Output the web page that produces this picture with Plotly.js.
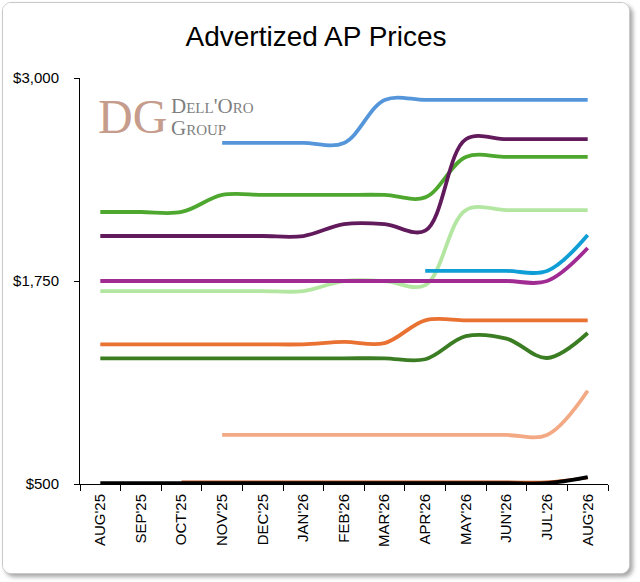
<!DOCTYPE html>
<html>
<head>
<meta charset="utf-8">
<script src="https://cdn.plot.ly/plotly-3.0.1.min.js"></script>
<style>
  body { margin: 0; background: #ffffff; }
  #frame {
    position: absolute; left: 2px; top: 2px;
    width: 626px; height: 570px;
    border: 1px solid #c8c8c8; border-radius: 9px;
    box-shadow: 3px 3px 4px rgba(0, 0, 0, 0.35);
    overflow: hidden; background: #ffffff;
  }
</style>
</head>
<body>
<div id="frame"><div id="plot"></div></div>
<script>
// months on the x axis
const months = ["AUG'25", "SEP'25", "OCT'25", "NOV'25", "DEC'25", "JAN'26", "FEB'26",
  "MAR'26", "APR'26", "MAY'26", "JUN'26", "JUL'26", "AUG'26"];

// price series (null = not yet advertized)
const blueSeries = [null, null, null, 2600, 2600, 2600, 2600, 2865, 2865, 2865, 2865, 2865, 2865];
const purpleSeries = [2027, 2027, 2027, 2027, 2027, 2027, 2100, 2100, 2060, 2623, 2623, 2623, 2623];
const greenSeries = [2175, 2175, 2175, 2280, 2280, 2280, 2280, 2280, 2265, 2514, 2514, 2514, 2514];
const lightGreenSeries = [1688, 1688, 1688, 1688, 1688, 1688, 1750, 1750, 1725, 2187, 2187, 2187, 2187];
const magentaSeries = [1750, 1750, 1750, 1750, 1750, 1750, 1750, 1750, 1750, 1750, 1750, 1750, 1953];
const cyanSeries = [null, null, null, null, null, null, null, null, 1812, 1812, 1812, 1812, 2033];
const orangeSeries = [1360, 1360, 1360, 1360, 1360, 1360, 1375, 1368, 1508, 1508, 1508, 1508, 1508];
const darkGreenSeries = [1274, 1274, 1274, 1274, 1274, 1274, 1274, 1274, 1268, 1410, 1395, 1276, 1430];
const peachSeries = [null, null, null, 802, 802, 802, 802, 802, 802, 802, 802, 802, 1074];
const brownSeries = [null, null, 512, 512, 512, 512, 512, 512, 512, 512, 512, 512, 538];
const blackSeries = [505, 505, 505, 505, 505, 505, 505, 505, 505, 505, 505, 505, 543];

// y axis ticks
const yTickVals = [500, 1750, 3000];
const yTickText = ["$500", "$1,750", "$3,000"];

function line(values, color) {
  return {
    x: months,
    y: values,
    type: "scatter",
    mode: "lines",
    line: { color: color, width: 3.8, shape: "spline", smoothing: 1 },
    showlegend: false,
    hoverinfo: "x+y",
  };
}

const traces = [
  line(blueSeries, "#5596db"),
  line(greenSeries, "#4ea72e"),
  line(purpleSeries, "#611a5b"),
  line(lightGreenSeries, "#b3e6a1"),
  line(magentaSeries, "#a02b93"),
  line(cyanSeries, "#0f9ed5"),
  line(orangeSeries, "#e97132"),
  line(darkGreenSeries, "#3b7d23"),
  line(peachSeries, "#f2a984"),
  line(brownSeries, "#c04f15"),
  line(blackSeries, "#000000"),
];
traces[9].line.width = 3;

const serif = "'Liberation Serif', 'DejaVu Serif', serif";

const layout = {
  width: 626,
  height: 570,
  margin: { l: 77, r: 21, t: 75, b: 89 },
  paper_bgcolor: "#ffffff",
  plot_bgcolor: "#ffffff",
  font: { family: "'Liberation Sans', Arial, sans-serif", color: "#000000", size: 15 },
  title: {
    text: "Advertized AP Prices",
    font: { size: 28, color: "#000000" },
    xref: "container", x: 0.5, xanchor: "center",
    yref: "container", y: 0.942, yanchor: "middle",
  },
  xaxis: {
    type: "category",
    range: [-0.5, 12.5],
    tickangle: -90,
    tickson: "boundaries",
    ticks: "outside",
    ticklen: 6,
    tickcolor: "#000000",
    showline: true,
    linecolor: "#000000",
    linewidth: 1,
    showgrid: false,
    zeroline: false,
    ticklabelstandoff: 3,
    tickfont: { size: 15 },
    fixedrange: true,
  },
  yaxis: {
    range: [500, 3000],
    tickvals: yTickVals,
    ticktext: yTickText,
    ticks: "outside",
    ticklen: 5,
    tickcolor: "#000000",
    showline: true,
    linecolor: "#000000",
    linewidth: 1,
    showgrid: false,
    zeroline: false,
    ticklabelstandoff: 12,
    tickfont: { size: 15 },
    fixedrange: true,
  },
  annotations: [
    {
      // logo monogram
      text: "DG",
      xref: "paper", yref: "paper",
      x: 0.03, y: 0.906, xanchor: "left", yanchor: "middle",
      showarrow: false,
      font: { family: serif, size: 48, color: "#c69c8c" },
    },
    {
      text: "D<span style='font-size:15px'>ELL</span>'O<span style='font-size:15px'>RO</span>",
      xref: "paper", yref: "paper",
      x: 0.168, y: 0.931, xanchor: "left", yanchor: "middle",
      showarrow: false,
      font: { family: serif, size: 21, color: "#7f7f7f" },
    },
    {
      text: "G<span style='font-size:15px'>ROUP</span>",
      xref: "paper", yref: "paper",
      x: 0.168, y: 0.877, xanchor: "left", yanchor: "middle",
      showarrow: false,
      font: { family: serif, size: 21, color: "#7f7f7f" },
    },
  ],
};

Plotly.newPlot("plot", traces, layout, { displayModeBar: false, staticPlot: true });
</script>
</body>
</html>
